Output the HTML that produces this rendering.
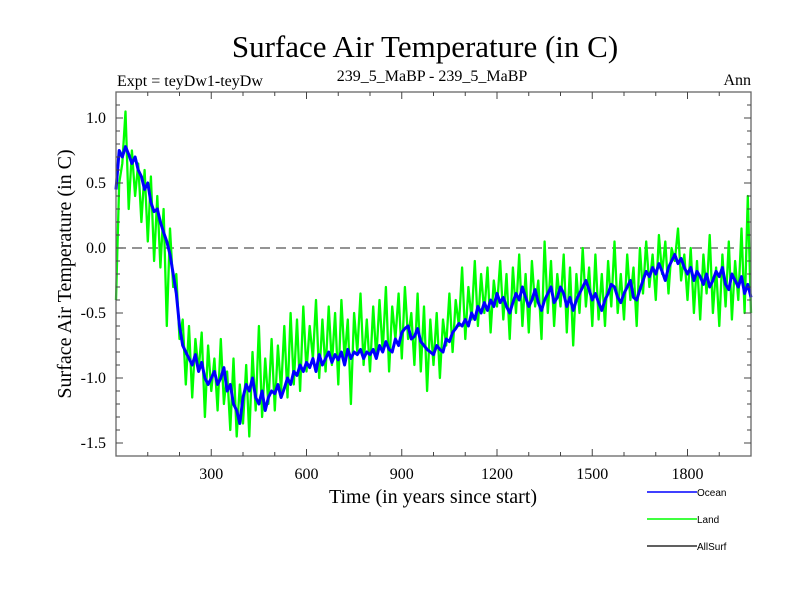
<!DOCTYPE html>
<html><head><meta charset="utf-8"><style>
body{margin:0;background:#fff;}
svg{display:block;font-family:"Liberation Serif",serif;}
</style></head><body>
<svg id="chart" width="800" height="600" viewBox="0 0 800 600">
<rect width="800" height="600" fill="#fff"/>
<text x="425" y="57" font-size="31" text-anchor="middle">Surface Air Temperature (in C)</text>
<text x="117" y="86" font-size="16">Expt = teyDw1-teyDw</text>
<text x="432" y="81" font-size="16" text-anchor="middle">239_5_MaBP - 239_5_MaBP</text>
<text x="751" y="85" font-size="16" text-anchor="end">Ann</text>
<text x="433" y="503" font-size="20" text-anchor="middle">Time (in years since start)</text>
<text transform="translate(71,274) rotate(-90)" font-size="20" text-anchor="middle">Surface Air Temperature (in C)</text>
<g id="plot"></g>
<g font-family="Liberation Sans, sans-serif" font-size="10">
<g><line x1="647" y1="492" x2="697" y2="492" stroke="#0000ff" stroke-width="1.5"/><text x="697" y="496">Ocean</text></g>
<g><line x1="647" y1="519" x2="697" y2="519" stroke="#00ff00" stroke-width="1.5"/><text x="697" y="523">Land</text></g>
<g><line x1="647" y1="546" x2="697" y2="546" stroke="#000" stroke-width="1.2"/><text x="697" y="550">AllSurf</text></g>
</g>
</svg>
<script>
const yearStep = 10;
const oceanValues = [0.45,0.75,0.7,0.78,0.72,0.65,0.7,0.6,0.55,0.45,0.5,0.35,0.28,0.3,0.2,0.12,0.05,-0.05,-0.2,-0.35,
-0.6,-0.75,-0.8,-0.85,-0.9,-0.82,-0.95,-0.88,-1.0,-1.05,-1.0,-0.95,-1.05,-1.0,-0.92,-1.1,-1.05,-1.2,-1.25,-1.35,
-1.15,-1.05,-1.1,-1.0,-1.15,-1.2,-1.1,-1.25,-1.15,-1.1,-1.12,-1.05,-1.15,-1.08,-1.0,-1.05,-0.95,-0.98,-0.9,-0.95,
-0.88,-0.92,-0.85,-0.95,-0.82,-0.9,-0.85,-0.8,-0.88,-0.82,-0.86,-0.8,-0.9,-0.78,-0.85,-0.8,-0.82,-0.78,-0.85,-0.8,
-0.82,-0.78,-0.85,-0.75,-0.8,-0.72,-0.78,-0.8,-0.7,-0.75,-0.65,-0.62,-0.6,-0.7,-0.68,-0.62,-0.72,-0.75,-0.78,-0.8,
-0.82,-0.75,-0.78,-0.8,-0.7,-0.72,-0.65,-0.62,-0.58,-0.6,-0.55,-0.6,-0.5,-0.55,-0.45,-0.5,-0.42,-0.48,-0.4,-0.45,
-0.35,-0.42,-0.38,-0.45,-0.5,-0.42,-0.35,-0.4,-0.3,-0.38,-0.45,-0.4,-0.32,-0.42,-0.48,-0.4,-0.35,-0.3,-0.42,-0.38,
-0.3,-0.35,-0.45,-0.38,-0.48,-0.4,-0.35,-0.3,-0.25,-0.32,-0.4,-0.35,-0.42,-0.48,-0.4,-0.35,-0.28,-0.3,-0.38,-0.42,
-0.35,-0.3,-0.25,-0.38,-0.4,-0.32,-0.25,-0.18,-0.22,-0.15,-0.2,-0.12,-0.18,-0.25,-0.15,-0.1,-0.05,-0.12,-0.08,-0.15,
-0.2,-0.15,-0.25,-0.18,-0.22,-0.28,-0.2,-0.3,-0.25,-0.18,-0.22,-0.15,-0.28,-0.32,-0.2,-0.25,-0.3,-0.22,-0.35,-0.28,-0.38];
const landValues = [-0.4,0.5,0.65,1.05,0.3,0.75,0.4,0.65,0.2,0.6,0.05,0.55,-0.1,0.4,-0.15,0.3,-0.6,0.15,-0.3,-0.2,
-0.7,-0.55,-1.05,-0.6,-1.15,-0.7,-0.95,-0.65,-1.3,-0.75,-1.1,-0.85,-1.25,-0.7,-1.2,-0.95,-1.4,-0.85,-1.45,-1.05,
-1.35,-0.9,-1.45,-0.8,-1.25,-0.6,-1.3,-0.85,-1.2,-0.7,-1.25,-0.75,-1.1,-0.6,-1.15,-0.5,-1.05,-0.55,-1.1,-0.45,
-0.95,-0.6,-0.85,-0.4,-1.0,-0.55,-0.95,-0.45,-0.9,-0.5,-1.05,-0.4,-0.85,-0.55,-1.2,-0.5,-0.8,-0.35,-0.9,-0.55,
-0.95,-0.45,-0.85,-0.4,-0.8,-0.3,-0.95,-0.45,-0.7,-0.35,-0.85,-0.3,-0.7,-0.5,-0.9,-0.35,-0.95,-0.45,-1.1,-0.55,
-0.9,-0.5,-1.0,-0.55,-0.75,-0.35,-0.8,-0.4,-0.6,-0.15,-0.7,-0.3,-0.55,-0.1,-0.6,-0.2,-0.5,-0.15,-0.65,-0.25,
-0.45,-0.1,-0.55,-0.2,-0.7,-0.15,-0.5,-0.05,-0.6,-0.2,-0.65,-0.1,-0.45,-0.25,-0.7,0.05,-0.5,-0.1,-0.6,-0.2,
-0.45,-0.05,-0.65,-0.15,-0.75,-0.2,-0.5,0.0,-0.45,-0.15,-0.6,-0.05,-0.55,-0.2,-0.6,-0.1,-0.45,0.05,-0.5,-0.2,
-0.55,-0.05,-0.4,-0.15,-0.6,0.0,-0.35,0.05,-0.3,-0.05,-0.4,0.1,-0.2,0.05,-0.35,0.0,-0.1,0.15,-0.25,-0.05,
-0.4,0.0,-0.5,-0.1,-0.55,-0.05,-0.35,0.1,-0.5,-0.15,-0.6,-0.05,-0.45,0.05,-0.55,-0.1,-0.4,0.15,-0.5,0.4,-0.5];
const xTickLabels = [300,600,900,1200,1500,1800];
const yTickLabels = [1.0,0.5,0.0,-0.5,-1.0,-1.5];

const L=116,R=751,T=92,B=456, X0=0,X1=2000, Y0=-1.6,Y1=1.2;
const sx=v=>L+(v-X0)/(X1-X0)*(R-L);
const sy=v=>B-(v-Y0)/(Y1-Y0)*(B-T);
const NS='http://www.w3.org/2000/svg';
const g=document.getElementById('plot');
function mk(tag,attrs,parent){const e=document.createElementNS(NS,tag);for(const k in attrs)e.setAttribute(k,attrs[k]);(parent||g).appendChild(e);return e;}

const z=mk('line',{x1:L,x2:R,y1:sy(0),y2:sy(0),stroke:'#555','stroke-width':1.2,'stroke-dasharray':'10,6'});



function series(vals,color,w,name){
  const pts=vals.map((v,i)=>sx(i*yearStep).toFixed(1)+','+sy(v).toFixed(1)).join(' ');
  const p=mk('polyline',{points:pts,fill:'none',stroke:color,'stroke-width':w,'stroke-linejoin':'round'});
  
  
}
series(landValues,'#00ff00',2.3,'land-series');
series(oceanValues,'#0000ff',3,'ocean-series');

const fr=mk('rect',{x:L,y:T,width:R-L,height:B-T,fill:'none',stroke:'#666','stroke-width':1.3});



for(let v=100;v<X1;v+=100){
  const major=v%300===0, len=major?7:4;
  mk('line',{x1:sx(v),x2:sx(v),y1:B,y2:B-len,stroke:'#444'});
  mk('line',{x1:sx(v),x2:sx(v),y1:T,y2:T+len,stroke:'#444'});
}
xTickLabels.forEach(v=>{
  const t=mk('text',{x:sx(v),y:B+23,'font-size':16,'text-anchor':'middle'});
  t.textContent=v;
  
  
});
for(let k=-15;k<=11;k++){
  const v=k/10, major=k%5===0, len=major?7:4;
  mk('line',{x1:L,x2:L+len,y1:sy(v),y2:sy(v),stroke:'#444'});
  mk('line',{x1:R,x2:R-len,y1:sy(v),y2:sy(v),stroke:'#444'});
}
yTickLabels.forEach(v=>{
  const t=mk('text',{x:L-10,y:sy(v)+5,'font-size':16,'text-anchor':'end'});
  t.textContent=v.toFixed(1);
  
  
});
</script>
</body></html>
